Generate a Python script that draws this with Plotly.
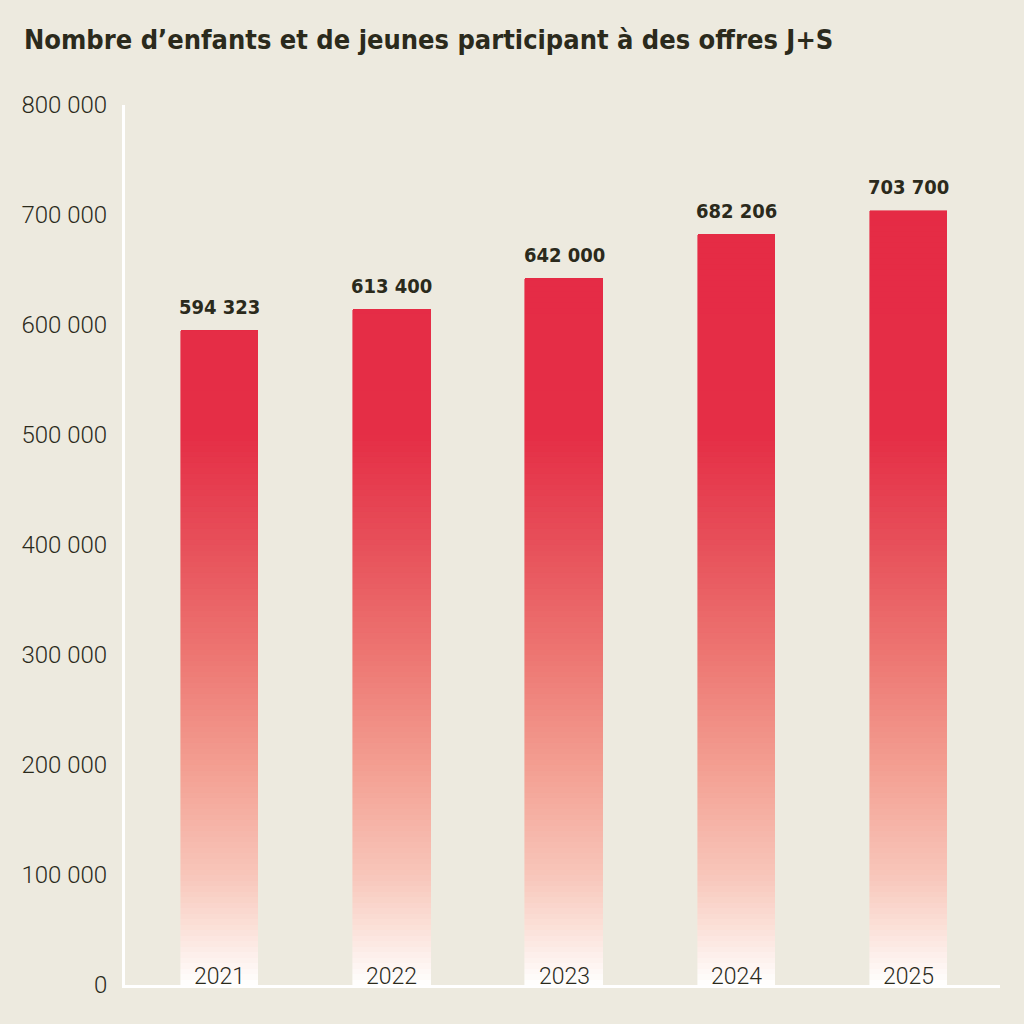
import plotly.graph_objects as go

# ---- data ----
years = ["2021", "2022", "2023", "2024", "2025"]
participants = [594323, 613400, 642000, 682206, 703700]
y_tick_values = [0, 100000, 200000, 300000, 400000, 500000, 600000, 700000, 800000]
y_tick_labels = ["0", "100 000", "200 000", "300 000", "400 000",
                 "500 000", "600 000", "700 000", "800 000"]
title_text = "Nombre d\u2019enfants et de jeunes participant à des offres J+S"

# ---- style ----
BG = "#EDEADF"
TEXT = "#2B2A1C"
COND = "DejaVu Sans Condensed, Roboto, sans-serif"
grad_stops = [  # (value, rgb)
    (0, (255, 255, 255)),
    (50000, (251, 226, 218)),
    (100000, (248, 198, 186)),
    (200000, (243, 158, 145)),
    (300000, (237, 118, 114)),
    (400000, (231, 80, 90)),
    (500000, (229, 46, 70)),
    (800000, (229, 42, 69)),
]


def color_at(v):
    for (v0, c0), (v1, c1) in zip(grad_stops[:-1], grad_stops[1:]):
        if v <= v1:
            t = (v - v0) / (v1 - v0)
            c = [round(a + (b - a) * t) for a, b in zip(c0, c1)]
            return "rgb({},{},{})".format(*c)
    return "rgb({},{},{})".format(*grad_stops[-1][1])


def fmt(n):
    return "{:,}".format(n).replace(",", " ")


step = 5000
fig = go.Figure()
top = max(participants)
k = 0
while k * step < top:
    lo = k * step
    seg = [max(0, min(step, v - lo)) for v in participants]
    col = color_at(lo + step / 2)
    fig.add_trace(go.Bar(
        x=years, y=seg, width=0.45,
        marker=dict(color=col, line=dict(color=col, width=0.6)),
        hoverinfo="skip", showlegend=False,
    ))
    k += 1

annotations = []
for i, (yr, v) in enumerate(zip(years, participants)):
    annotations.append(dict(x=i, y=v, xref="x", yref="y", text=fmt(v),
                            showarrow=False, yanchor="bottom", yshift=10,
                            font=dict(family=COND, size=20, color=TEXT,
                                      weight="bold")))
    annotations.append(dict(x=i, y=0, xref="x", yref="y", text=yr,
                            showarrow=False, yanchor="bottom", yshift=-7,
                            font=dict(family="Roboto", size=23, color=TEXT,
                                      weight=300)))

fig.update_layout(
    barmode="stack",
    bargap=0,
    width=1024, height=1024,
    paper_bgcolor=BG, plot_bgcolor=BG,
    margin=dict(l=125, r=24, t=105, b=39),
    annotations=annotations,
    title=dict(text=title_text, xref="container", yref="container",
               x=24 / 1024, xanchor="left", y=1 - 40 / 1024, yanchor="middle",
               font=dict(family=COND, size=27, color=TEXT, weight="bold")),
    xaxis=dict(type="category", range=[-0.55, 4.53], showticklabels=False,
               showline=True, linecolor="white", linewidth=3, ticks="",
               showgrid=False, zeroline=False, fixedrange=True),
    yaxis=dict(range=[0, 800000], tickvals=y_tick_values, ticktext=y_tick_labels,
               showline=True, linecolor="white", linewidth=3, ticks="",
               ticklabelstandoff=10, showgrid=False, zeroline=False,
               tickfont=dict(family="Roboto", size=24, color=TEXT, weight=300),
               fixedrange=True),
)

fig.write_html("out.html")
